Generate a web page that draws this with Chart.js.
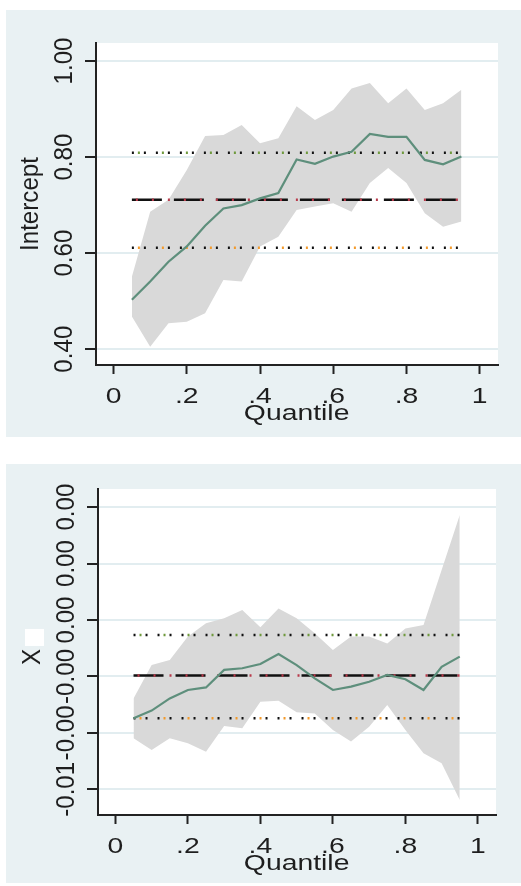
<!DOCTYPE html>
<html>
<head>
<meta charset="utf-8">
<script src="https://cdn.jsdelivr.net/npm/chart.js@4.4.1/dist/chart.umd.min.js"></script>
<style>
  html, body { margin:0; padding:0; background:#fff; }
  .panel { position:absolute; left:6px; background:#e9f1f3; }
  #p1 { top:10px; width:515px; height:427px; }
  #p2 { top:464px; width:515px; height:419px; }
  canvas { display:block; }
</style>
</head>
<body>
<div class="panel" id="p1"><canvas id="c1" width="515" height="427"></canvas></div>
<div class="panel" id="p2"><canvas id="c2" width="515" height="419"></canvas></div>
<script>
// quantiles used for both panels
const quantiles = [0.05,0.10,0.15,0.20,0.25,0.30,0.35,0.40,0.45,0.50,0.55,0.60,0.65,0.70,0.75,0.80,0.85,0.90,0.95];

const xTicks = [0,0.2,0.4,0.6,0.8,1];
const xTickLabels = ["0",".2",".4",".6",".8","1"];

// Intercept panel
const interceptCoef = [0.503,0.541,0.582,0.614,0.657,0.693,0.700,0.714,0.725,0.795,0.786,0.801,0.811,0.848,0.842,0.842,0.794,0.785,0.801];
const interceptHi   = [0.551,0.686,0.711,0.773,0.844,0.846,0.867,0.829,0.839,0.906,0.877,0.898,0.943,0.954,0.912,0.943,0.898,0.912,0.940];
const interceptLo   = [0.468,0.405,0.454,0.457,0.475,0.544,0.541,0.614,0.634,0.690,0.697,0.704,0.686,0.746,0.777,0.746,0.683,0.655,0.666];
const interceptOls = [0.611, 0.711, 0.809]; // lo, est, hi
const interceptTicks = [0.4,0.6,0.8,1.0];
const interceptTickLabels = ["0.40","0.60","0.80","1.00"];

// X panel
const xCoef = [-0.00348,-0.00321,-0.00278,-0.00248,-0.00239,-0.00177,-0.00171,-0.00156,-0.00121,-0.00160,-0.00207,-0.00248,-0.00236,-0.00219,-0.00195,-0.00210,-0.00248,-0.00166,-0.00130];
const xHi   = [-0.00278,-0.00160,-0.00142,-0.00059,-0.00012,0.00006,0.00035,-0.00026,0.00041,0.00006,-0.00047,-0.00106,-0.00059,-0.00059,-0.00083,-0.00030,-0.00018,0.00177,0.00372];
const xLo   = [-0.00419,-0.00461,-0.00419,-0.00437,-0.00467,-0.00376,-0.00384,-0.00290,-0.00286,-0.00327,-0.00331,-0.00390,-0.00431,-0.00378,-0.00301,-0.00390,-0.00472,-0.00508,-0.00638];
const xOls = [-0.00348, -0.00197, -0.00053];
const xPanelTicks = [-0.006,-0.004,-0.002,0,0.002,0.004];
const xPanelTickLabels = ["-0.01","-0.00","-0.00","0.00","0.00","0.00"];

const FONT = '21px "Liberation Sans", Arial, sans-serif';

function pts(ys) { return quantiles.map((q,i) => ({ x:q, y:ys[i] })); }
function flat(v) { return [{ x:quantiles[0], y:v }, { x:quantiles[quantiles.length-1], y:v }]; }

function drawH(ctx, text, x, y) {
  ctx.save();
  ctx.translate(x, y);
  ctx.scale(1.35, 1.05);
  ctx.textAlign = "center";
  ctx.textBaseline = "alphabetic";
  ctx.fillText(text, 0, 0);
  ctx.restore();
}

function drawV(ctx, text, x, y) {
  ctx.save();
  ctx.translate(x, y);
  ctx.rotate(-Math.PI/2);
  ctx.scale(1.15, 1.2);
  ctx.textAlign = "center";
  ctx.textBaseline = "alphabetic";
  ctx.fillText(text, 0, 0);
  ctx.restore();
}

// white plot region + all text in stata-ish stretched look
const stataPlugin = {
  id: "stata",
  beforeDraw(chart) {
    const { ctx, chartArea:a } = chart;
    ctx.save();
    ctx.fillStyle = "#fff";
    ctx.fillRect(a.left, a.top, a.right-a.left, a.bottom-a.top);
    ctx.restore();
  },
  afterDraw(chart, args, o) {
    const { ctx, chartArea:a, scales } = chart;
    ctx.save();
    ctx.font = FONT;
    ctx.fillStyle = "#1e1e1e";
    xTicks.forEach((v,i) => drawH(ctx, xTickLabels[i], scales.x.getPixelForValue(v), a.bottom + 38));
    drawH(ctx, "Quantile", scales.x.getPixelForValue(0.5), a.bottom + 55);
    o.yTicks.forEach((v,i) => drawV(ctx, o.yLabels[i], a.left - 24, scales.y.getPixelForValue(v)));
    const mid = (a.top + a.bottom) / 2 + o.titleShift;
    drawV(ctx, o.title, a.left - 58, mid);
    if (o.hideBox) {
      const w = ctx.measureText(o.title).width * 1.15;
      ctx.fillStyle = "#fff";
      ctx.fillRect(a.left - 73, mid - w/2 - 20, 19, 17);
    }
    ctx.restore();
  }
};

function makePanel(id, cfg) {
  const datasets = [
    { data:pts(cfg.hi), fill:"+1", backgroundColor:"#d9d9d9", borderWidth:0, order:9 },
    { data:pts(cfg.lo), fill:false, borderWidth:0, order:9 },
    { data:flat(cfg.ols[1]), borderColor:"#111", borderWidth:2.5, borderDash:[30,12], order:3 },
    { data:flat(cfg.ols[1]), borderColor:"#b8394a", borderWidth:2.5, borderDash:[2,14], borderDashOffset:-4, order:2 },
    { data:flat(cfg.ols[2]), borderColor:"#111", borderWidth:2.5, borderDash:[2,10], order:3 },
    { data:flat(cfg.ols[2]), borderColor:"#6f9a3c", borderWidth:2.5, borderDash:[2,22], borderDashOffset:-6, order:2 },
    { data:flat(cfg.ols[0]), borderColor:"#111", borderWidth:2.5, borderDash:[2,10], order:3 },
    { data:flat(cfg.ols[0]), borderColor:"#f39a2a", borderWidth:2.5, borderDash:[2,22], borderDashOffset:-6, order:2 },
    { data:pts(cfg.coef), borderColor:"#5e8f7c", borderWidth:2.2, order:0 }
  ];

  return new Chart(document.getElementById(id), {
    type:"line",
    data:{ datasets },
    options:{
      responsive:false,
      animation:false,
      events:[],
      layout:{ padding:cfg.pad },
      elements:{ point:{ radius:0 }, line:{ tension:0 } },
      plugins:{
        legend:{ display:false },
        tooltip:{ enabled:false },
        stata:{ yTicks:cfg.yTicks, yLabels:cfg.yLabels, title:cfg.title, titleShift:cfg.titleShift, hideBox:cfg.hideBox }
      },
      scales:{
        x:{
          type:"linear", min:-0.048, max:1.05,
          afterBuildTicks: s => { s.ticks = xTicks.map(v => ({ value:v })); },
          afterFit: s => { s.height = 9; },
          ticks:{ display:false },
          grid:{ drawOnChartArea:false, tickLength:9, tickColor:"#222", tickWidth:2 },
          border:{ color:"#222", width:2 }
        },
        y:{
          type:"linear", min:cfg.yMin, max:cfg.yMax,
          afterBuildTicks: s => { s.ticks = cfg.yTicks.map(v => ({ value:v })); },
          afterFit: s => { s.width = 11; },
          ticks:{ display:false },
          grid:{ color:"#e2edf0", lineWidth:2, tickLength:11, tickColor:"#222", tickWidth:2 },
          border:{ color:"#222", width:2 }
        }
      }
    },
    plugins:[stataPlugin]
  });
}

makePanel("c1", {
  coef:interceptCoef, hi:interceptHi, lo:interceptLo, ols:interceptOls,
  yTicks:interceptTicks, yLabels:interceptTickLabels, yMin:0.367, yMax:1.0375,
  title:"Intercept", titleShift:0, hideBox:false,
  pad:{ left:79, right:23, top:33, bottom:63 }
});

makePanel("c2", {
  coef:xCoef, hi:xHi, lo:xLo, ols:xOls,
  yTicks:xPanelTicks, yLabels:xPanelTickLabels, yMin:-0.00691, yMax:0.00464,
  title:"X", titleShift:5, hideBox:true,
  pad:{ left:81, right:25, top:25, bottom:59 }
});
</script>
</body>
</html>
